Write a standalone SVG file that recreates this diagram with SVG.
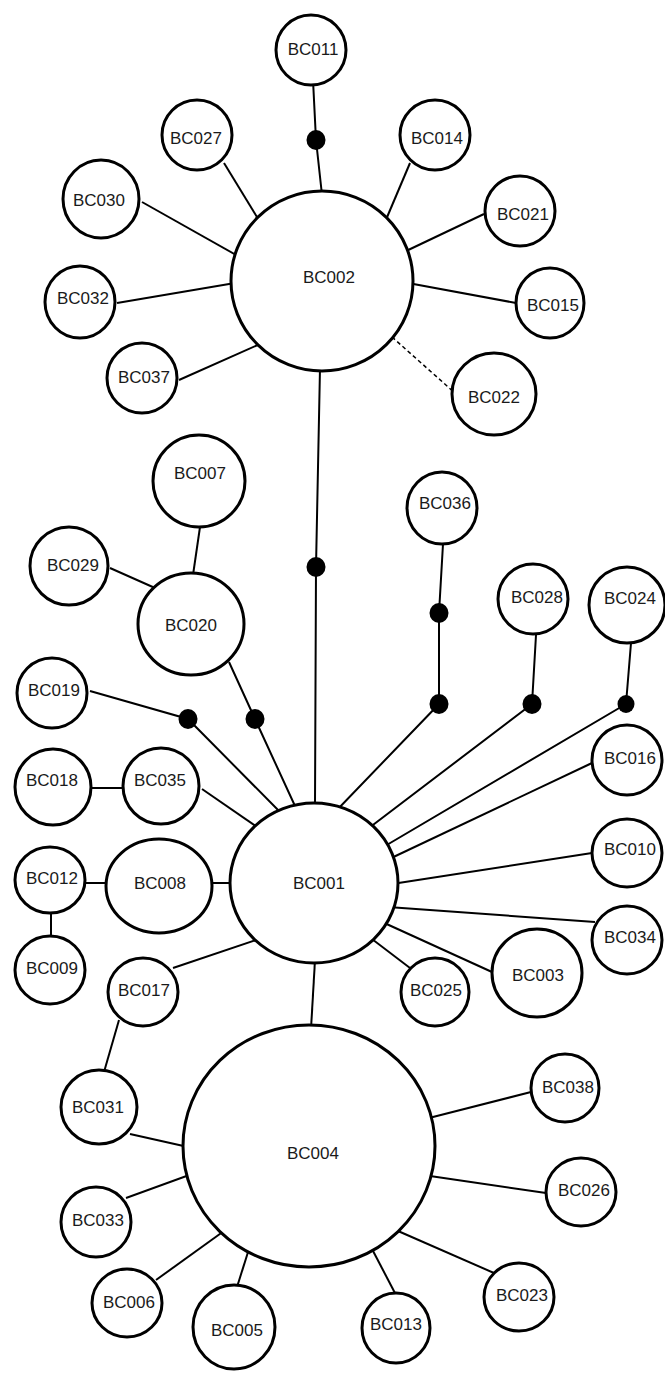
<svg xmlns="http://www.w3.org/2000/svg" width="665" height="1376" viewBox="0 0 665 1376">
<style>
.n ellipse{fill:#fff;stroke:#000;stroke-width:3}
.n text{font-family:"Liberation Sans",Arial,sans-serif;font-size:17px;fill:#1a1a1a;text-anchor:middle}
.e line,.e polyline{stroke:#000;stroke-width:2;fill:none}
.e .d{stroke-dasharray:4 3;stroke-width:1.5}
.dot{fill:#000}
</style>
<rect width="665" height="1376" fill="#fff"/>
<g id="edges" class="e">
<polyline points="313,80 316,140 322,195"/>
<line x1="224" y1="163" x2="260" y2="222"/>
<line x1="410" y1="163" x2="385" y2="222"/>
<line x1="142" y1="202" x2="238" y2="256"/>
<line x1="484" y1="214" x2="404" y2="252"/>
<line x1="117" y1="303" x2="235" y2="283"/>
<line x1="516" y1="303" x2="408" y2="283"/>
<line x1="179" y1="380" x2="260" y2="344"/>
<line class="d" x1="392" y1="337" x2="456" y2="394"/>
<polyline points="320,368 316,567 315,805"/>
<line x1="200" y1="527" x2="193" y2="575"/>
<line x1="110" y1="568" x2="155" y2="588"/>
<polyline points="229,662 255,719 295,806"/>
<polyline points="90,691 188,719 282,814"/>
<line x1="202" y1="789" x2="260" y2="829"/>
<line x1="91" y1="788" x2="124" y2="788"/>
<polyline points="443,544 439,613 439,704 336,811"/>
<polyline points="536,635 532,704 365,831"/>
<polyline points="631,643 626,704 380,849"/>
<line x1="592" y1="763" x2="385" y2="861"/>
<line x1="85" y1="883" x2="107" y2="883"/>
<line x1="210" y1="883" x2="234" y2="883"/>
<line x1="51" y1="913" x2="51" y2="937"/>
<line x1="592" y1="853" x2="392" y2="884"/>
<line x1="595" y1="922" x2="388" y2="907"/>
<line x1="492" y1="972" x2="380" y2="921"/>
<line x1="410" y1="968" x2="368" y2="936"/>
<line x1="173" y1="968" x2="262" y2="938"/>
<line x1="315" y1="960" x2="311" y2="1029"/>
<line x1="119" y1="1020" x2="104" y2="1072"/>
<line x1="130" y1="1134" x2="188" y2="1147"/>
<line x1="126" y1="1198" x2="192" y2="1174"/>
<line x1="156" y1="1280" x2="224" y2="1231"/>
<line x1="237" y1="1287" x2="249" y2="1249"/>
<line x1="396" y1="1295" x2="372" y2="1249"/>
<line x1="494" y1="1273" x2="398" y2="1231"/>
<line x1="546" y1="1193" x2="430" y2="1176"/>
<line x1="531" y1="1092" x2="429" y2="1118"/>
<ellipse class="dot" cx="316" cy="140" rx="9.5" ry="10"/>
<ellipse class="dot" cx="316" cy="567" rx="9.5" ry="10"/>
<ellipse class="dot" cx="439" cy="613" rx="9.5" ry="10"/>
<ellipse class="dot" cx="439" cy="704" rx="9.5" ry="10"/>
<ellipse class="dot" cx="532" cy="704" rx="9.5" ry="10"/>
<ellipse class="dot" cx="626" cy="704" rx="8.5" ry="9"/>
<ellipse class="dot" cx="188" cy="719" rx="9.5" ry="10"/>
<ellipse class="dot" cx="255" cy="719" rx="9.5" ry="10"/>
</g>
<g id="BC011" class="n"><ellipse cx="311" cy="50" rx="35" ry="35"/><text x="313" y="55">BC011</text></g>
<g id="BC027" class="n"><ellipse cx="197" cy="135" rx="35" ry="35"/><text x="196" y="144">BC027</text></g>
<g id="BC014" class="n"><ellipse cx="435" cy="135" rx="35" ry="35"/><text x="437" y="144">BC014</text></g>
<g id="BC030" class="n"><ellipse cx="101" cy="199" rx="38" ry="39"/><text x="99" y="206">BC030</text></g>
<g id="BC021" class="n"><ellipse cx="520" cy="211" rx="35" ry="35"/><text x="523" y="220">BC021</text></g>
<g id="BC002" class="n"><ellipse cx="322" cy="281" rx="91" ry="90"/><text x="329" y="283">BC002</text></g>
<g id="BC032" class="n"><ellipse cx="80" cy="302" rx="35" ry="36"/><text x="83" y="304">BC032</text></g>
<g id="BC015" class="n"><ellipse cx="550" cy="303" rx="34" ry="35"/><text x="553" y="311">BC015</text></g>
<g id="BC037" class="n"><ellipse cx="142" cy="378" rx="35" ry="35"/><text x="144" y="383">BC037</text></g>
<g id="BC022" class="n"><ellipse cx="494" cy="394" rx="42" ry="41"/><text x="494" y="403">BC022</text></g>
<g id="BC007" class="n"><ellipse cx="199" cy="481" rx="46" ry="46"/><text x="200" y="479">BC007</text></g>
<g id="BC036" class="n"><ellipse cx="442" cy="508" rx="35" ry="36"/><text x="445" y="509">BC036</text></g>
<g id="BC029" class="n"><ellipse cx="69" cy="566" rx="39" ry="39"/><text x="73" y="571">BC029</text></g>
<g id="BC020" class="n"><ellipse cx="191" cy="624" rx="53" ry="51"/><text x="191" y="631">BC020</text></g>
<g id="BC028" class="n"><ellipse cx="533" cy="599" rx="35" ry="35"/><text x="537" y="603">BC028</text></g>
<g id="BC024" class="n"><ellipse cx="627" cy="605" rx="38" ry="38"/><text x="630" y="604">BC024</text></g>
<g id="BC019" class="n"><ellipse cx="52" cy="693" rx="35" ry="35"/><text x="54" y="696">BC019</text></g>
<g id="BC016" class="n"><ellipse cx="627" cy="760" rx="35" ry="35"/><text x="630" y="764">BC016</text></g>
<g id="BC018" class="n"><ellipse cx="53" cy="787" rx="38" ry="38"/><text x="52" y="786">BC018</text></g>
<g id="BC035" class="n"><ellipse cx="161" cy="786" rx="38" ry="38"/><text x="160" y="786">BC035</text></g>
<g id="BC001" class="n"><ellipse cx="314" cy="883" rx="84" ry="80"/><text x="319" y="889">BC001</text></g>
<g id="BC012" class="n"><ellipse cx="50" cy="880" rx="35" ry="33"/><text x="52" y="884">BC012</text></g>
<g id="BC008" class="n"><ellipse cx="159" cy="886" rx="53" ry="47"/><text x="160" y="889">BC008</text></g>
<g id="BC010" class="n"><ellipse cx="627" cy="853" rx="35" ry="34"/><text x="630" y="855">BC010</text></g>
<g id="BC009" class="n"><ellipse cx="50" cy="970" rx="35" ry="34"/><text x="52" y="974">BC009</text></g>
<g id="BC034" class="n"><ellipse cx="627" cy="940" rx="35" ry="34"/><text x="630" y="943">BC034</text></g>
<g id="BC003" class="n"><ellipse cx="537" cy="973" rx="45" ry="44"/><text x="538" y="981">BC003</text></g>
<g id="BC025" class="n"><ellipse cx="435" cy="992" rx="34" ry="34"/><text x="436" y="996">BC025</text></g>
<g id="BC017" class="n"><ellipse cx="143" cy="992" rx="35" ry="34"/><text x="144" y="996">BC017</text></g>
<g id="BC004" class="n"><ellipse cx="309" cy="1146" rx="126" ry="121"/><text x="313" y="1159">BC004</text></g>
<g id="BC038" class="n"><ellipse cx="565" cy="1088" rx="34" ry="34"/><text x="568" y="1093">BC038</text></g>
<g id="BC031" class="n"><ellipse cx="99" cy="1107" rx="38" ry="37"/><text x="98" y="1113">BC031</text></g>
<g id="BC026" class="n"><ellipse cx="581" cy="1192" rx="35" ry="34"/><text x="584" y="1196">BC026</text></g>
<g id="BC033" class="n"><ellipse cx="96" cy="1222" rx="35" ry="35"/><text x="98" y="1226">BC033</text></g>
<g id="BC023" class="n"><ellipse cx="519" cy="1297" rx="35" ry="34"/><text x="522" y="1301">BC023</text></g>
<g id="BC006" class="n"><ellipse cx="127" cy="1303" rx="35" ry="34"/><text x="129" y="1308">BC006</text></g>
<g id="BC005" class="n"><ellipse cx="234" cy="1327" rx="41" ry="42"/><text x="237" y="1336">BC005</text></g>
<g id="BC013" class="n"><ellipse cx="396" cy="1328" rx="34" ry="35"/><text x="396" y="1330">BC013</text></g>
</svg>
